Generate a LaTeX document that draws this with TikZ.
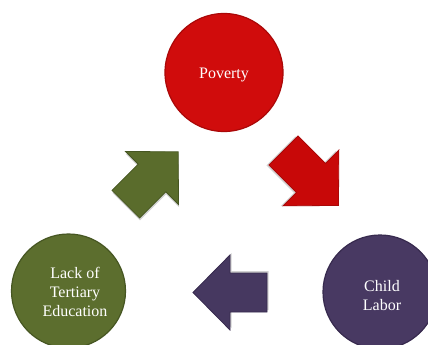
\documentclass[tikz,border=0pt]{standalone}
\usepackage{fontspec}
\setmainfont{Liberation Serif}
\definecolor{povred}{RGB}{208,12,12}
\definecolor{povredd}{RGB}{170,8,8}
\definecolor{olive}{RGB}{92,110,46}
\definecolor{olived}{RGB}{70,86,34}
\definecolor{plum}{RGB}{72,57,98}
\definecolor{plumd}{RGB}{55,42,78}
\definecolor{arrred}{RGB}{200,8,8}
\definecolor{arrgreen}{RGB}{90,108,44}
\definecolor{arrplum}{RGB}{70,56,96}
\tikzset{
  ball/.style={circle, minimum size=#1, inner sep=0pt, text=white,
    font=\fontsize{16}{19}\selectfont, align=center},
  ballrim/.style={line width=1.2pt},
  arrowshadow/.style={fill=black, opacity=0.18},
}
\newcommand{\blockarrowpath}{(-37,-19.5) -- (0,-19.5) -- (0,-37.5) -- (37,0) -- (0,37.5) -- (0,19.5) -- (-37,19.5) -- cycle}
\begin{document}
\begin{tikzpicture}[x=1pt,y=-1pt]
\useasboundingbox (0,0) rectangle (428,345);
\fill[white] (0,0) rectangle (428,345);
% circles
\node[ball=118pt, fill=povred, draw=povredd, ballrim] (pov) at (224,72.5) {};
\node[ball=114pt, fill=olive, draw=olived, ballrim] (lte) at (68.5,291) {};
\node[ball=114pt, fill=plum, draw=plumd, ballrim] (cl) at (380,292) {};
% labels
\node[ball=10pt] (povt) at (224,75) {Poverty};
\node[ball=10pt] (ltet) at (75,292) {Lack of\\Tertiary\\Education};
\node[ball=10pt] (clt) at (382,296) {Child\\Labor};
% red arrow (down-right)
\begin{scope}[shift={(311,178)}, rotate=-45, scale=1.05]
  \fill[arrowshadow, shift={(-1.5,2)}] \blockarrowpath;
  \fill[arrred] \blockarrowpath;
  \draw[povredd, line width=0.8pt] \blockarrowpath;
\end{scope}
% green arrow (up-right)
\begin{scope}[shift={(152,178)}, rotate=45, scale=1.0]
  \fill[arrowshadow, shift={(-1.5,2)}] \blockarrowpath;
  \fill[arrgreen] \blockarrowpath;
  \draw[olived, line width=0.8pt] \blockarrowpath;
\end{scope}
% purple arrow (left)
\begin{scope}[shift={(230,292.5)}, rotate=180]
  \fill[arrowshadow, shift={(-1.5,2)}] \blockarrowpath;
  \fill[arrplum] \blockarrowpath;
  \draw[plumd, line width=0.8pt] \blockarrowpath;
\end{scope}
\end{tikzpicture}
\end{document}
